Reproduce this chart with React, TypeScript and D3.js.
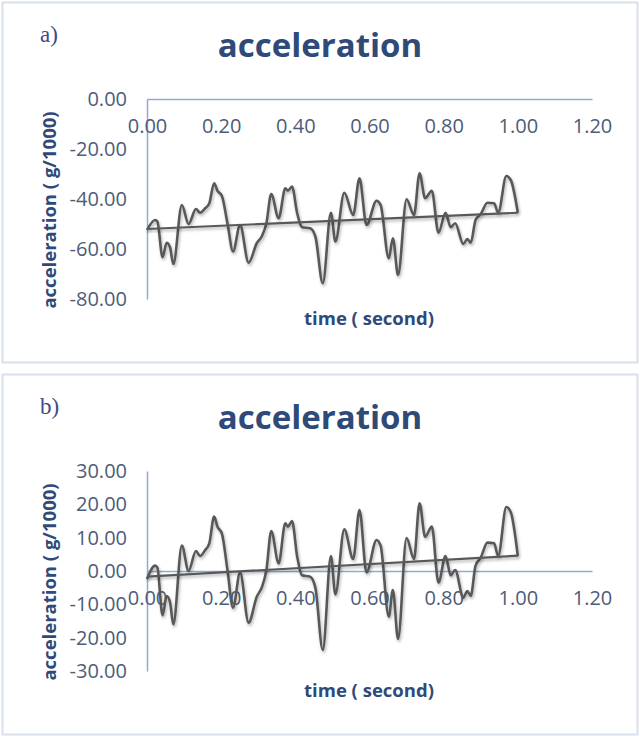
import React, { useRef, useEffect } from 'react';
import * as d3 from 'd3';

// time samples (s)
const timeA = [
  0.000, 0.022, 0.028, 0.042, 0.053, 0.062, 0.071, 0.094, 0.112, 0.132, 0.143, 0.157, 0.168,
  0.181, 0.190, 0.202, 0.217, 0.232, 0.251, 0.274, 0.296, 0.310, 0.322, 0.335, 0.355, 0.373,
  0.380, 0.391, 0.405, 0.418, 0.440, 0.454, 0.474, 0.496, 0.508, 0.532, 0.556, 0.573, 0.592,
  0.619, 0.630, 0.652, 0.663, 0.677, 0.700, 0.720, 0.735, 0.750, 0.768, 0.786, 0.805, 0.819,
  0.831, 0.853, 0.864, 0.873, 0.886, 0.900, 0.918, 0.936, 0.947, 0.969, 0.981, 1.000
];
const timeB = timeA;

// acceleration (g/1000), panel a
const accA = [
  -52.4, -48.4, -49.0, -63.3, -57.5, -59.3, -66.0, -42.4, -50.0, -44.0, -45.5, -43.7, -41.7,
  -33.7, -36.7, -38.8, -49.7, -61.0, -50.4, -65.5, -57.7, -54.8, -49.7, -38.0, -47.7, -35.7,
  -36.7, -35.0, -45.7, -51.3, -51.7, -55.0, -73.7, -45.5, -57.0, -37.5, -46.4, -31.7, -50.4,
  -40.7, -42.4, -63.7, -55.7, -70.4, -40.1, -46.4, -29.7, -39.7, -36.7, -53.5, -45.5, -51.3,
  -49.7, -58.0, -56.0, -57.5, -48.4, -46.0, -41.5, -41.7, -45.5, -30.8, -32.4, -45.5
];

// acceleration (g/1000), panel b
const accB = [
  -2.4, 1.6, 1.0, -13.3, -7.5, -9.3, -16.0, 7.6, 0.0, 6.0, 4.5, 6.3, 8.3,
  16.3, 13.3, 11.2, 0.3, -11.0, -0.4, -15.5, -7.7, -4.8, 0.3, 12.0, 2.3, 14.3,
  13.3, 15.0, 4.3, -1.3, -1.7, -5.0, -23.7, 4.5, -7.0, 12.5, 3.6, 18.3, -0.4,
  9.3, 7.6, -13.7, -5.7, -20.4, 9.9, 3.6, 20.3, 10.3, 13.3, -3.5, 4.5, -1.3,
  0.3, -8.0, -6.0, -7.5, 1.6, 4.0, 8.5, 8.3, 4.5, 19.2, 17.6, 4.5
];

// linear trendline end points
const trendTime = [0, 1.0];
const trendA = [-52.0, -45.5];
const trendB = [-1.7, 4.6];

const xTicks = [0, 0.2, 0.4, 0.6, 0.8, 1.0, 1.2];
const yTicksA = [0, -20, -40, -60, -80];
const yTicksB = [30, 20, 10, 0, -10, -20, -30];

const panelLabels = ['a)', 'b)'];
const chartTitle = 'acceleration';
const xTitle = 'time ( second)';
const yTitle = 'acceleration ( g/1000)';

const FONT = "'Open Sans', sans-serif";
const TITLE_COLOR = '#2f4a78';
const TICK_COLOR = '#4d5c78';
const AXIS_COLOR = '#8eaad8';
const LINE_COLOR = '#595959';

// plain hyphen minus, like the original
const fmt = (d: d3.NumberValue) => Number(d).toFixed(2);

type Pt = { t: number; v: number };

interface PanelProps {
  top: number;
  label: string;
  times: number[];
  values: number[];
  trend: number[];
  yDomain: [number, number];
  yTicks: number[];
  id: string;
}

const Panel: React.FC<PanelProps> = ({ top, label, times, values, trend, yDomain, yTicks, id }) => {
  const gRef = useRef<SVGGElement>(null);

  useEffect(() => {
    if (!gRef.current) return;
    const g = d3.select(gRef.current);
    g.selectAll('*').remove();

    // frame
    g.append('rect')
      .attr('x', 2.5).attr('y', top + 0.5)
      .attr('width', 635).attr('height', 360)
      .attr('fill', '#ffffff')
      .attr('stroke', '#d9e1ec')
      .attr('stroke-width', 2);

    g.append('text')
      .attr('x', 40).attr('y', top + 40)
      .style('font-family', "'Liberation Serif', serif")
      .style('font-size', '23px')
      .style('fill', '#414a8a')
      .text(label);

    g.append('text')
      .attr('x', 320).attr('y', top + 55)
      .attr('text-anchor', 'middle')
      .style('font-family', FONT)
      .style('font-weight', '700')
      .style('font-size', '33px')
      .style('fill', TITLE_COLOR)
      .text(chartTitle);

    const xScale = d3.scaleLinear().domain([0, 1.2]).range([147, 592]);
    const yScale = d3.scaleLinear().domain(yDomain).range([top + 297, top + 97]);

    const shadow = g.append('defs').append('filter')
      .attr('id', `shadow-${id}`)
      .attr('x', '-5%').attr('y', '-10%')
      .attr('width', '110%').attr('height', '130%');
    shadow.append('feDropShadow')
      .attr('dx', 1).attr('dy', 2)
      .attr('stdDeviation', 1.5)
      .attr('flood-color', '#000')
      .attr('flood-opacity', 0.3);

    // y axis
    const yAxis = d3.axisLeft(yScale)
      .tickValues(yTicks)
      .tickFormat(fmt)
      .tickSize(0)
      .tickPadding(20);
    const yg = g.append('g').attr('transform', `translate(${xScale(0)},0)`).call(yAxis);

    // x axis at y = 0
    const xAxis = d3.axisBottom(xScale)
      .tickValues(xTicks)
      .tickFormat(fmt)
      .tickSize(0)
      .tickPadding(20);
    const xg = g.append('g').attr('transform', `translate(0,${yScale(0)})`).call(xAxis);

    [yg, xg].forEach(ax => {
      ax.select('.domain').attr('stroke', AXIS_COLOR).attr('stroke-width', 1.5);
      ax.selectAll('.tick text')
        .style('font-family', FONT)
        .style('font-size', '20px')
        .style('fill', TICK_COLOR);
    });

    const series: Pt[] = times.map((t, i) => ({ t, v: values[i] }));
    const trendPts: Pt[] = trendTime.map((t, i) => ({ t, v: trend[i] }));

    const line = d3.line<Pt>()
      .x(d => xScale(d.t))
      .y(d => yScale(d.v))
      .curve(d3.curveMonotoneX);

    g.append('path')
      .datum(series)
      .attr('fill', 'none')
      .attr('stroke', LINE_COLOR)
      .attr('stroke-width', 2.6)
      .attr('stroke-linejoin', 'round')
      .attr('filter', `url(#shadow-${id})`)
      .attr('d', line);

    g.append('path')
      .datum(trendPts)
      .attr('fill', 'none')
      .attr('stroke', LINE_COLOR)
      .attr('stroke-width', 2.2)
      .attr('filter', `url(#shadow-${id})`)
      .attr('d', d3.line<Pt>().x(d => xScale(d.t)).y(d => yScale(d.v)));

    // axis titles
    g.append('text')
      .attr('x', 369).attr('y', top + 323)
      .attr('text-anchor', 'middle')
      .style('font-family', FONT)
      .style('font-weight', '700')
      .style('font-size', '18.5px')
      .style('fill', TITLE_COLOR)
      .text(xTitle);

    g.append('text')
      .attr('transform', `translate(56,${top + 208}) rotate(-90)`)
      .attr('text-anchor', 'middle')
      .style('font-family', FONT)
      .style('font-weight', '700')
      .style('font-size', '18.5px')
      .style('fill', TITLE_COLOR)
      .text(yTitle);
  }, [top, label, times, values, trend, yDomain, yTicks, id]);

  return <g ref={gRef} />;
};

export default function App() {
  return (
    <svg
      width={640}
      height={736}
      style={{ position: 'absolute', left: 0, top: 0, background: '#ffffff' }}
    >
      <Panel top={2} label={panelLabels[0]} times={timeA} values={accA} trend={trendA}
        yDomain={[-80, 0]} yTicks={yTicksA} id="a" />
      <Panel top={374} label={panelLabels[1]} times={timeB} values={accB} trend={trendB}
        yDomain={[-30, 30]} yTicks={yTicksB} id="b" />
    </svg>
  );
}
